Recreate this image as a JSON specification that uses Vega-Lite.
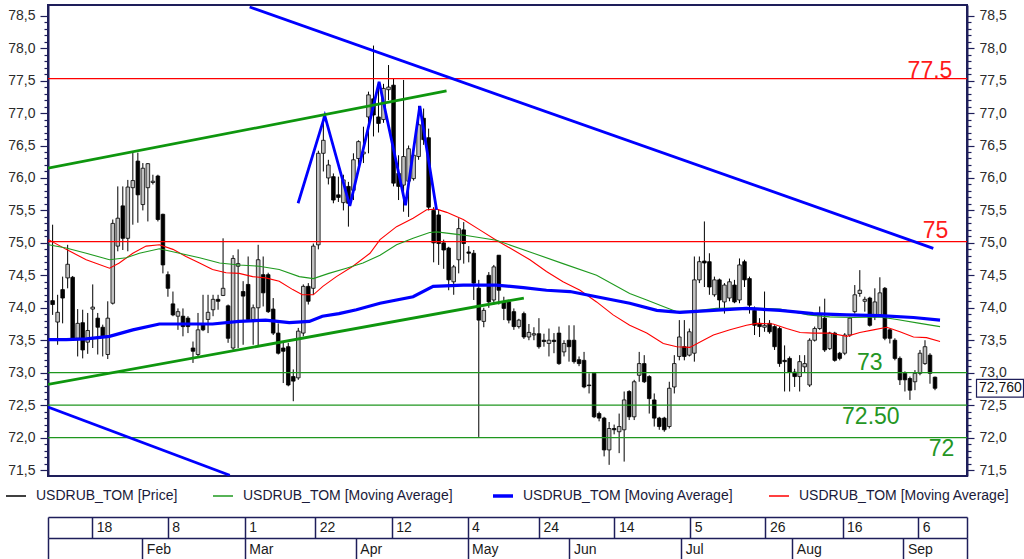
{
  "$schema": "https://vega.github.io/schema/vega-lite/v6.json",
  "width": 919,
  "height": 471,
  "autosize": {"type": "none"},
  "padding": {"left": 48, "top": 5, "right": 57, "bottom": 83},
  "background": "white",
  "config": {
    "font": "Liberation Sans",
    "view": {"stroke": "#1e1e5a", "strokeWidth": 2},
    "axis": {"grid": false, "title": null, "labelFont": "Liberation Sans"},
    "legend": {"labelFont": "Liberation Sans"}
  },
  "datasets": {
    "candles": [
      {"i":-8,"o":74.11,"h":75.28,"l":73.89,"c":74.05},{"i":-7,"o":73.78,"h":74.2,"l":73.43,"c":73.93},{"i":-6,"o":74.28,"h":74.48,"l":73.76,"c":74.15},{"i":-5,"o":74.46,"h":74.97,"l":74.3,"c":74.67},{"i":-4,"o":74.47,"h":74.49,"l":73.51,"c":73.53},{"i":-3,"o":73.53,"h":73.98,"l":73.25,"c":73.76},{"i":-2,"o":73.77,"h":73.97,"l":73.22,"c":73.35},{"i":-1,"o":73.47,"h":73.92,"l":73.29,"c":73.65},
      {"i":0,"o":73.98,"h":74.36,"l":73.38,"c":74.01},{"i":1,"o":73.84,"h":73.92,"l":73.28,"c":73.7},{"i":2,"o":73.7,"h":73.74,"l":73.25,"c":73.56},{"i":3,"o":73.28,"h":74.1,"l":73.21,"c":73.84},{"i":4,"o":74.07,"h":75.36,"l":74.05,"c":75.3},{"i":5,"o":74.95,"h":75.87,"l":74.87,"c":75.38},{"i":6,"o":75.57,"h":75.87,"l":74.89,"c":75.07},{"i":7,"o":75.07,"h":75.97,"l":74.87,"c":75.86},{"i":8,"o":75.85,"h":76.39,"l":75.28,"c":75.96},{"i":9,"o":76.26,"h":76.39,"l":75.31,"c":75.74},
      {"i":10,"o":75.59,"h":76.23,"l":75.5,"c":76.15},{"i":11,"o":75.85,"h":76.23,"l":75.33,"c":76.22},{"i":12,"o":75.93,"h":76.05,"l":75.9,"c":75.95},{"i":13,"o":76.03,"h":76.05,"l":75.33,"c":75.36},{"i":14,"o":75.44,"h":75.45,"l":74.53,"c":74.66},{"i":15,"o":74.51,"h":74.56,"l":74.17,"c":74.3},{"i":16,"o":74.06,"h":74.25,"l":73.87,"c":73.89},{"i":17,"o":73.87,"h":73.99,"l":73.66,"c":73.94},{"i":18,"o":73.87,"h":73.99,"l":73.56,"c":73.71},{"i":19,"o":73.84,"h":73.87,"l":73.61,"c":73.71},
      {"i":20,"o":73.38,"h":73.48,"l":73.15,"c":73.33},{"i":21,"o":73.28,"h":73.92,"l":73.25,"c":73.66},{"i":22,"o":73.74,"h":74.2,"l":73.64,"c":73.66},{"i":23,"o":73.82,"h":74.2,"l":73.61,"c":73.93},{"i":24,"o":73.97,"h":74.2,"l":73.87,"c":74.13},{"i":25,"o":74.13,"h":74.2,"l":73.97,"c":74.1},{"i":26,"o":74.19,"h":75.07,"l":74.18,"c":74.3},{"i":27,"o":74.03,"h":74.05,"l":73.46,"c":73.53},{"i":28,"o":73.38,"h":74.81,"l":73.35,"c":74.76},{"i":29,"o":74.64,"h":74.9,"l":73.38,"c":74.68},
      {"i":30,"o":74.25,"h":74.41,"l":73.43,"c":74.18},{"i":31,"o":74.36,"h":74.79,"l":73.79,"c":73.82},{"i":32,"o":73.82,"h":74.05,"l":73.43,"c":74.0},{"i":33,"o":74.0,"h":74.97,"l":73.41,"c":74.74},{"i":34,"o":74.51,"h":74.79,"l":74.02,"c":74.23},{"i":35,"o":74.51,"h":74.54,"l":73.92,"c":73.94},{"i":36,"o":73.98,"h":74.15,"l":73.58,"c":73.61},{"i":37,"o":73.61,"h":73.76,"l":73.28,"c":73.3},{"i":38,"o":73.38,"h":73.48,"l":72.84,"c":73.33},{"i":39,"o":73.4,"h":73.46,"l":72.79,"c":72.81},
      {"i":40,"o":72.94,"h":73.05,"l":72.56,"c":72.87},{"i":41,"o":72.92,"h":73.69,"l":72.89,"c":73.64},{"i":42,"o":73.61,"h":74.36,"l":73.56,"c":74.33},{"i":43,"o":74.33,"h":74.38,"l":74.05,"c":74.1},{"i":44,"o":74.3,"h":74.99,"l":74.2,"c":74.95},{"i":45,"o":74.97,"h":76.42,"l":74.9,"c":76.38},{"i":46,"o":76.38,"h":76.95,"l":76.1,"c":76.58},{"i":47,"o":76.0,"h":76.28,"l":75.9,"c":76.2},{"i":48,"o":76.02,"h":76.07,"l":75.61,"c":75.66},{"i":49,"o":75.74,"h":76.02,"l":75.63,"c":75.7},
      {"i":50,"o":75.62,"h":76.05,"l":75.5,"c":75.97},{"i":51,"o":75.87,"h":75.94,"l":75.25,"c":75.61},{"i":52,"o":75.81,"h":76.38,"l":75.66,"c":76.28},{"i":53,"o":76.3,"h":76.58,"l":76.2,"c":76.56},{"i":54,"o":76.37,"h":76.79,"l":76.23,"c":76.4},{"i":55,"o":76.94,"h":77.33,"l":76.38,"c":77.28},{"i":56,"o":77.22,"h":78.04,"l":76.64,"c":76.97},{"i":57,"o":76.94,"h":77.48,"l":76.7,"c":76.84},{"i":58,"o":76.9,"h":77.45,"l":76.85,"c":77.38},{"i":59,"o":77.36,"h":77.74,"l":77.2,"c":77.4},
      {"i":60,"o":77.43,"h":77.54,"l":75.87,"c":75.92},{"i":61,"o":76.07,"h":76.35,"l":75.66,"c":75.87},{"i":62,"o":75.89,"h":77.51,"l":75.48,"c":76.33},{"i":63,"o":75.95,"h":76.5,"l":75.4,"c":76.45},{"i":64,"o":75.99,"h":76.38,"l":75.96,"c":76.35},{"i":65,"o":76.33,"h":77.11,"l":76.28,"c":76.82},{"i":66,"o":76.92,"h":77.07,"l":76.51,"c":76.59},{"i":67,"o":76.62,"h":76.76,"l":75.5,"c":75.55},{"i":68,"o":75.5,"h":75.55,"l":74.7,"c":75.0},{"i":69,"o":75.43,"h":75.51,"l":74.66,"c":74.99},
      {"i":70,"o":75.0,"h":75.05,"l":74.6,"c":74.89},{"i":71,"o":74.92,"h":74.94,"l":74.27,"c":74.43},{"i":72,"o":74.4,"h":74.66,"l":74.2,"c":74.63},{"i":73,"o":74.74,"h":75.38,"l":74.53,"c":75.22},{"i":74,"o":75.2,"h":75.32,"l":74.68,"c":74.99},{"i":75,"o":74.86,"h":74.95,"l":74.7,"c":74.84},{"i":76,"o":74.84,"h":74.89,"l":74.12,"c":74.38},{"i":77,"o":74.3,"h":74.43,"l":72.01,"c":73.81},{"i":78,"o":73.79,"h":74.0,"l":73.7,"c":73.96},{"i":79,"o":74.5,"h":74.55,"l":74.0,"c":74.09},
      {"i":80,"o":74.12,"h":74.66,"l":74.05,"c":74.63},{"i":81,"o":74.81,"h":74.81,"l":74.05,"c":74.27},{"i":82,"o":74.09,"h":74.17,"l":73.81,"c":73.99},{"i":83,"o":74.09,"h":74.12,"l":73.76,"c":73.81},{"i":84,"o":73.94,"h":73.99,"l":73.66,"c":73.71},{"i":85,"o":73.71,"h":73.83,"l":73.68,"c":73.81},{"i":86,"o":73.91,"h":73.94,"l":73.52,"c":73.55},{"i":87,"o":73.55,"h":73.75,"l":73.5,"c":73.62},{"i":88,"o":73.58,"h":73.7,"l":73.5,"c":73.6},{"i":89,"o":73.6,"h":73.84,"l":73.37,"c":73.4},
      {"i":90,"o":73.5,"h":73.6,"l":73.4,"c":73.48},{"i":91,"o":73.45,"h":73.68,"l":73.25,"c":73.5},{"i":92,"o":73.5,"h":73.61,"l":73.3,"c":73.48},{"i":93,"o":73.61,"h":73.71,"l":73.12,"c":73.14},{"i":94,"o":73.32,"h":73.5,"l":73.25,"c":73.45},{"i":95,"o":73.5,"h":73.73,"l":73.17,"c":73.4},{"i":96,"o":73.5,"h":73.73,"l":73.14,"c":73.17},{"i":97,"o":73.2,"h":73.25,"l":73.1,"c":73.14},{"i":98,"o":73.19,"h":73.32,"l":72.76,"c":72.78},{"i":99,"o":72.81,"h":72.99,"l":72.68,"c":72.8},
      {"i":100,"o":72.99,"h":72.99,"l":72.3,"c":72.32},{"i":101,"o":72.37,"h":72.4,"l":72.25,"c":72.3},{"i":102,"o":72.3,"h":72.32,"l":71.71,"c":71.81},{"i":103,"o":71.81,"h":72.24,"l":71.58,"c":72.14},{"i":104,"o":72.14,"h":72.2,"l":72.05,"c":72.12},{"i":105,"o":72.09,"h":72.37,"l":71.76,"c":72.17},{"i":106,"o":72.12,"h":72.71,"l":71.63,"c":72.58},{"i":107,"o":72.71,"h":72.73,"l":72.27,"c":72.32},{"i":108,"o":72.32,"h":72.89,"l":72.27,"c":72.86},{"i":109,"o":72.96,"h":73.32,"l":72.86,"c":73.14},
      {"i":110,"o":73.14,"h":73.27,"l":72.84,"c":72.86},{"i":111,"o":72.94,"h":72.96,"l":72.37,"c":72.6},{"i":112,"o":72.58,"h":72.68,"l":72.17,"c":72.3},{"i":113,"o":72.3,"h":72.32,"l":72.12,"c":72.17},{"i":114,"o":72.3,"h":72.32,"l":72.09,"c":72.12},{"i":115,"o":72.17,"h":72.86,"l":72.14,"c":72.76},{"i":116,"o":72.78,"h":73.27,"l":72.68,"c":73.14},{"i":117,"o":73.25,"h":73.81,"l":73.19,"c":73.55},{"i":118,"o":73.4,"h":73.81,"l":73.19,"c":73.25},{"i":119,"o":73.27,"h":73.68,"l":73.25,"c":73.63},
      {"i":120,"o":73.3,"h":74.79,"l":73.17,"c":74.43},{"i":121,"o":74.43,"h":74.79,"l":74.38,"c":74.71},{"i":122,"o":74.72,"h":75.33,"l":74.32,"c":74.69},{"i":123,"o":74.71,"h":74.84,"l":74.2,"c":74.32},{"i":124,"o":74.2,"h":74.48,"l":74.17,"c":74.43},{"i":125,"o":74.43,"h":74.45,"l":73.96,"c":74.12},{"i":126,"o":74.09,"h":74.38,"l":73.91,"c":74.35},{"i":127,"o":74.15,"h":74.45,"l":74.1,"c":74.4},{"i":128,"o":74.35,"h":74.43,"l":74.07,"c":74.09},{"i":129,"o":74.12,"h":74.76,"l":74.07,"c":74.66},
      {"i":130,"o":74.71,"h":74.74,"l":74.32,"c":74.43},{"i":131,"o":74.45,"h":74.48,"l":73.91,"c":74.04},{"i":132,"o":73.96,"h":74.02,"l":73.58,"c":73.73},{"i":133,"o":73.76,"h":73.84,"l":73.55,"c":73.71},{"i":134,"o":73.7,"h":74.25,"l":73.63,"c":73.73},{"i":135,"o":73.76,"h":73.81,"l":73.6,"c":73.63},{"i":136,"o":73.71,"h":73.73,"l":73.35,"c":73.4},{"i":137,"o":73.68,"h":73.71,"l":73.09,"c":73.14},{"i":138,"o":73.19,"h":73.42,"l":72.71,"c":73.17},{"i":139,"o":73.22,"h":73.25,"l":72.71,"c":73.01},
      {"i":140,"o":73.01,"h":73.06,"l":72.78,"c":72.94},{"i":141,"o":72.94,"h":73.27,"l":72.71,"c":73.17},{"i":142,"o":73.09,"h":73.27,"l":73.01,"c":73.14},{"i":143,"o":72.81,"h":73.53,"l":72.78,"c":73.5},{"i":144,"o":73.5,"h":73.71,"l":73.48,"c":73.68},{"i":145,"o":73.68,"h":74.02,"l":73.66,"c":73.89},{"i":146,"o":73.84,"h":74.14,"l":73.32,"c":73.35},{"i":147,"o":73.37,"h":73.63,"l":73.35,"c":73.61},{"i":148,"o":73.61,"h":73.63,"l":73.17,"c":73.19},{"i":149,"o":73.3,"h":73.32,"l":73.19,"c":73.22},
      {"i":150,"o":73.3,"h":73.61,"l":73.27,"c":73.58},{"i":151,"o":73.58,"h":73.86,"l":73.55,"c":73.84},{"i":152,"o":73.94,"h":74.35,"l":73.91,"c":74.2},{"i":153,"o":74.22,"h":74.58,"l":74.17,"c":74.27},{"i":154,"o":74.1,"h":74.17,"l":73.94,"c":74.13},{"i":155,"o":74.15,"h":74.17,"l":73.71,"c":73.73},{"i":156,"o":73.86,"h":74.3,"l":73.81,"c":74.09},{"i":157,"o":73.89,"h":74.47,"l":73.86,"c":74.23},{"i":158,"o":74.3,"h":74.32,"l":73.5,"c":73.53},{"i":159,"o":73.66,"h":73.68,"l":73.45,"c":73.53},
      {"i":160,"o":73.5,"h":73.53,"l":73.19,"c":73.22},{"i":161,"o":73.22,"h":73.25,"l":72.81,"c":72.89},{"i":162,"o":72.99,"h":73.02,"l":72.71,"c":72.89},{"i":163,"o":72.91,"h":72.94,"l":72.58,"c":72.73},{"i":164,"o":72.86,"h":73.04,"l":72.73,"c":72.99},{"i":165,"o":72.99,"h":73.35,"l":72.96,"c":73.3},{"i":166,"o":73.14,"h":73.5,"l":73.12,"c":73.4},{"i":167,"o":73.27,"h":73.3,"l":72.83,"c":72.99},{"i":168,"o":72.93,"h":72.94,"l":72.73,"c":72.76}
    ],
    "ma": [
      {"s":"MAr","i":-8.8,"v":75.05},{"s":"MAr","i":-5.3,"v":74.9},{"s":"MAr","i":-1.3,"v":74.74},{"s":"MAr","i":3.35,"v":74.61},{"s":"MAr","i":5.3,"v":74.69},{"s":"MAr","i":8.0,"v":74.84},{"s":"MAr","i":10.65,"v":74.95},{"s":"MAr","i":13.3,"v":74.97},{"s":"MAr","i":16.0,"v":74.9},{"s":"MAr","i":18.6,"v":74.79},{"s":"MAr","i":21.3,"v":74.69},{"s":"MAr","i":23.9,"v":74.59},{"s":"MAr","i":26.6,"v":74.54},{"s":"MAr","i":29.2,"v":74.53},{"s":"MAr","i":31.9,"v":74.48},{"s":"MAr","i":34.5,"v":74.46},{"s":"MAr","i":37.2,"v":74.41},{"s":"MAr","i":39.9,"v":74.28},{"s":"MAr","i":41.8,"v":74.2},{"s":"MAr","i":44.0,"v":74.2},{"s":"MAr","i":45.9,"v":74.33},{"s":"MAr","i":48.6,"v":74.48},{"s":"MAr","i":51.9,"v":74.64},{"s":"MAr","i":55.3,"v":74.84},{"s":"MAr","i":57.3,"v":75.05},{"s":"MAr","i":60.6,"v":75.25},{"s":"MAr","i":63.9,"v":75.38},{"s":"MAr","i":66.6,"v":75.51},{"s":"MAr","i":68.6,"v":75.52},{"s":"MAr","i":70.6,"v":75.47},{"s":"MAr","i":73.9,"v":75.36},{"s":"MAr","i":77.2,"v":75.2},{"s":"MAr","i":80.5,"v":75.04},{"s":"MAr","i":83.9,"v":74.89},{"s":"MAr","i":87.2,"v":74.74},{"s":"MAr","i":90.5,"v":74.56},{"s":"MAr","i":93.8,"v":74.4},{"s":"MAr","i":97.2,"v":74.27},{"s":"MAr","i":100.5,"v":74.09},{"s":"MAr","i":103.8,"v":73.89},{"s":"MAr","i":107.1,"v":73.73},{"s":"MAr","i":110.5,"v":73.61},{"s":"MAr","i":113.8,"v":73.45},{"s":"MAr","i":116.5,"v":73.4},{"s":"MAr","i":119.1,"v":73.39},{"s":"MAr","i":121.8,"v":73.5},{"s":"MAr","i":123.8,"v":73.58},{"s":"MAr","i":127.1,"v":73.66},{"s":"MAr","i":130.4,"v":73.73},{"s":"MAr","i":132.4,"v":73.76},{"s":"MAr","i":135.7,"v":73.75},{"s":"MAr","i":138.4,"v":73.68},{"s":"MAr","i":141.1,"v":73.62},{"s":"MAr","i":143.7,"v":73.61},{"s":"MAr","i":147.0,"v":73.61},{"s":"MAr","i":150.4,"v":73.56},{"s":"MAr","i":153.0,"v":73.62},{"s":"MAr","i":155.7,"v":73.66},{"s":"MAr","i":158.4,"v":73.7},{"s":"MAr","i":161.0,"v":73.63},{"s":"MAr","i":163.7,"v":73.55},{"s":"MAr","i":166.3,"v":73.54},{"s":"MAr","i":169.0,"v":73.48},
      {"s":"MAg","i":-8.8,"v":74.97},{"s":"MAg","i":-5.3,"v":74.92},{"s":"MAg","i":-1.3,"v":74.84},{"s":"MAg","i":3.35,"v":74.74},{"s":"MAg","i":6.7,"v":74.77},{"s":"MAg","i":9.3,"v":74.84},{"s":"MAg","i":13.3,"v":74.91},{"s":"MAg","i":17.3,"v":74.84},{"s":"MAg","i":21.3,"v":74.77},{"s":"MAg","i":25.3,"v":74.69},{"s":"MAg","i":29.2,"v":74.66},{"s":"MAg","i":33.2,"v":74.64},{"s":"MAg","i":37.2,"v":74.59},{"s":"MAg","i":41.2,"v":74.48},{"s":"MAg","i":44.0,"v":74.45},{"s":"MAg","i":47.1,"v":74.53},{"s":"MAg","i":50.6,"v":74.61},{"s":"MAg","i":53.9,"v":74.69},{"s":"MAg","i":57.3,"v":74.81},{"s":"MAg","i":60.6,"v":74.97},{"s":"MAg","i":63.9,"v":75.07},{"s":"MAg","i":67.2,"v":75.16},{"s":"MAg","i":68.6,"v":75.17},{"s":"MAg","i":73.9,"v":75.12},{"s":"MAg","i":80.5,"v":75.04},{"s":"MAg","i":87.2,"v":74.86},{"s":"MAg","i":93.8,"v":74.68},{"s":"MAg","i":100.5,"v":74.5},{"s":"MAg","i":107.1,"v":74.22},{"s":"MAg","i":110.5,"v":74.12},{"s":"MAg","i":113.8,"v":74.02},{"s":"MAg","i":116.5,"v":73.94},{"s":"MAg","i":119.8,"v":73.95},{"s":"MAg","i":124.4,"v":73.99},{"s":"MAg","i":130.4,"v":74.0},{"s":"MAg","i":137.1,"v":73.98},{"s":"MAg","i":142.7,"v":73.89},{"s":"MAg","i":147.0,"v":73.86},{"s":"MAg","i":151.7,"v":73.85},{"s":"MAg","i":157.0,"v":73.86},{"s":"MAg","i":160.4,"v":73.82},{"s":"MAg","i":165.0,"v":73.76},{"s":"MAg","i":169.0,"v":73.71},
      {"s":"MAb","i":-8.8,"v":73.51},{"s":"MAb","i":-5.3,"v":73.51},{"s":"MAb","i":-1.3,"v":73.52},{"s":"MAb","i":3.35,"v":73.56},{"s":"MAb","i":8.0,"v":73.66},{"s":"MAb","i":13.3,"v":73.75},{"s":"MAb","i":18.6,"v":73.75},{"s":"MAb","i":23.9,"v":73.75},{"s":"MAb","i":29.2,"v":73.79},{"s":"MAb","i":34.5,"v":73.81},{"s":"MAb","i":39.2,"v":73.77},{"s":"MAb","i":43.2,"v":73.79},{"s":"MAb","i":45.8,"v":73.87},{"s":"MAb","i":49.1,"v":73.91},{"s":"MAb","i":52.6,"v":73.97},{"s":"MAb","i":57.3,"v":74.07},{"s":"MAb","i":63.9,"v":74.17},{"s":"MAb","i":67.9,"v":74.33},{"s":"MAb","i":73.9,"v":74.35},{"s":"MAb","i":80.5,"v":74.35},{"s":"MAb","i":85.9,"v":74.31},{"s":"MAb","i":90.5,"v":74.27},{"s":"MAb","i":95.2,"v":74.25},{"s":"MAb","i":100.5,"v":74.17},{"s":"MAb","i":107.1,"v":74.07},{"s":"MAb","i":112.5,"v":73.96},{"s":"MAb","i":117.1,"v":73.93},{"s":"MAb","i":123.8,"v":73.96},{"s":"MAb","i":130.4,"v":73.99},{"s":"MAb","i":137.1,"v":73.96},{"s":"MAb","i":143.7,"v":73.91},{"s":"MAb","i":150.4,"v":73.89},{"s":"MAb","i":157.0,"v":73.88},{"s":"MAb","i":163.7,"v":73.85},{"s":"MAb","i":169.0,"v":73.81}
    ],
    "trends": [
      {"g":"W","col":"blue","i":40.96,"v":75.61},{"g":"W","col":"blue","i":46.29,"v":76.96},{"g":"W","col":"blue","i":51.28,"v":75.57},{"g":"W","col":"blue","i":57.12,"v":77.48},{"g":"W","col":"blue","i":62.39,"v":75.58},{"g":"W","col":"blue","i":65.24,"v":77.11},{"g":"W","col":"blue","i":68.58,"v":75.51},
      {"g":"blueTop","col":"blue","i":31.3,"v":78.634},{"g":"blueTop","col":"blue","i":167.66,"v":74.916},
      {"g":"blueLow","col":"blue","i":-8.92,"v":72.47},{"g":"blueLow","col":"blue","i":27.33,"v":71.42},
      {"g":"greenTop","col":"green","i":-8.92,"v":76.15},{"g":"greenTop","col":"green","i":70.57,"v":77.34},
      {"g":"greenLow","col":"green","i":-8.92,"v":72.82},{"g":"greenLow","col":"green","i":85.99,"v":74.15}
    ],
    "levels": [
      {"v":77.53,"col":"red"},{"v":75.02,"col":"red"},{"v":73.0,"col":"green"},{"v":72.5,"col":"green"},{"v":72.0,"col":"green"}
    ],
    "notes": [
      {"t":"77.5","col":"red","i":167.0,"v":77.65},{"t":"75","col":"red","i":168.1,"v":75.18},{"t":"73","col":"green","i":155.0,"v":73.15},{"t":"72.50","col":"green","i":155.2,"v":72.32},{"t":"72","col":"green","i":169.3,"v":71.82}
    ],
    "last": [{"i":168,"v":72.76,"t":"72,760"}]
  },
  "layer": [
    {
      "data": {"name": "candles"},
      "mark": {"type": "rule", "color": "#000000", "strokeWidth": 1, "clip": true},
      "encoding": {
        "x": {"field": "i", "type": "quantitative",
          "scale": {"domain": [-8.92, 174.38], "nice": false, "zero": false, "padding": 0},
          "axis": {"orient": "bottom", "offset": 41,
            "values": [-8.92, -0.1, 14.96, 30.33, 44.39, 59.66, 74.76, 88.99, 104.07, 119.19, 134.18, 149.56, 164.68, 174.38],
            "labelExpr": "['','18','8','1','22','12','4','24','14','5','26','16','6',''][indexof([-8.92, -0.1, 14.96, 30.33, 44.39, 59.66, 74.76, 88.99, 104.07, 119.19, 134.18, 149.56, 164.68, 174.38], datum.value)]",
            "tickSize": 21, "tickColor": "#1e1e5a", "tickWidth": 1.5, "domainColor": "#1e1e5a", "domainWidth": 1.5,
            "labelAlign": "left", "labelBaseline": "middle", "labelPadding": -11, "labelOffset": 4,
            "labelFontSize": 14, "labelColor": "#1a1a1a", "labelOverlap": false, "labelBound": false, "labelFlush": false,
            "grid": false, "title": null}},
        "y": {"field": "l", "type": "quantitative",
          "scale": {"domain": [71.408, 78.665], "nice": false, "zero": false, "padding": 0},
          "axis": {"orient": "left",
            "values": [70.853,70.894,71.5,71.6,71.7,71.8,71.9,72.0,72.1,72.2,72.3,72.4,72.5,72.6,72.7,72.8,72.9,73.0,73.1,73.2,73.3,73.4,73.5,73.6,73.7,73.8,73.9,74.0,74.1,74.2,74.3,74.4,74.5,74.6,74.7,74.8,74.9,75.0,75.1,75.2,75.3,75.4,75.5,75.6,75.7,75.8,75.9,76.0,76.1,76.2,76.3,76.4,76.5,76.6,76.7,76.8,76.9,77.0,77.1,77.2,77.3,77.4,77.5,77.6,77.7,77.8,77.9,78.0,78.1,78.2,78.3,78.4,78.5],
            "labelExpr": "datum.value > 71.45 && abs(datum.value*2 - round(datum.value*2)) < 0.01 ? replace(format(datum.value, '.1f'), '.', ',') : ''",
            "tickSize": {"condition": {"test": "abs(datum.value*2 - round(datum.value*2)) < 0.01", "value": 8}, "value": 4},
            "tickColor": {"condition": {"test": "datum.value < 71.45", "value": "transparent"}, "value": "#1e1e5a"},
            "grid": true,
            "gridColor": {"condition": {"test": "datum.value < 71.45", "value": "#a6a6a6"}, "value": "transparent"},
            "gridOpacity": {"condition": {"test": "datum.value < 70.87", "value": 0.45}, "value": 1},
            "gridWidth": 1.4,
            "tickWidth": 1.2, "domainColor": "#1e1e5a", "domainWidth": 2,
            "labelFontSize": 14, "labelColor": "#2b2b2b", "labelPadding": 5,
            "labelOverlap": false, "labelBound": false, "labelFlush": false, "title": null}},
        "y2": {"field": "h"}
      }
    },
    {
      "data": {"name": "candles"},
      "mark": {"type": "bar", "width": 3.6, "stroke": "#000000", "strokeWidth": 0.8, "clip": true},
      "encoding": {
        "x": {"field": "i", "type": "quantitative",
          "axis": {"orient": "bottom", "offset": 62,
            "values": [-8.92, 9.9, 30.33, 52.47, 74.76, 95.09, 117.4, 139.55, 161.69, 174.38],
            "labelExpr": "['','Feb','Mar','Apr','May','Jun','Jul','Aug','Sep',''][indexof([-8.92, 9.9, 30.33, 52.47, 74.76, 95.09, 117.4, 139.55, 161.69, 174.38], datum.value)]",
            "tickSize": 22, "tickColor": "#1e1e5a", "tickWidth": 1.5, "domainColor": "#1e1e5a", "domainWidth": 1.5,
            "labelAlign": "left", "labelBaseline": "middle", "labelPadding": -11, "labelOffset": 4,
            "labelFontSize": 14, "labelColor": "#1a1a1a", "labelOverlap": false, "labelBound": false, "labelFlush": false,
            "grid": false, "title": null}},
        "y": {"field": "o", "type": "quantitative",
          "axis": {"orient": "right",
            "values": [71.5,71.6,71.7,71.8,71.9,72.0,72.1,72.2,72.3,72.4,72.5,72.6,72.7,72.8,72.9,73.0,73.1,73.2,73.3,73.4,73.5,73.6,73.7,73.8,73.9,74.0,74.1,74.2,74.3,74.4,74.5,74.6,74.7,74.8,74.9,75.0,75.1,75.2,75.3,75.4,75.5,75.6,75.7,75.8,75.9,76.0,76.1,76.2,76.3,76.4,76.5,76.6,76.7,76.8,76.9,77.0,77.1,77.2,77.3,77.4,77.5,77.6,77.7,77.8,77.9,78.0,78.1,78.2,78.3,78.4,78.5],
            "labelExpr": "abs(datum.value*2 - round(datum.value*2)) < 0.01 ? replace(format(datum.value, '.1f'), '.', ',') : ''",
            "tickSize": {"condition": {"test": "abs(datum.value*2 - round(datum.value*2)) < 0.01", "value": 7}, "value": 4},
            "tickColor": "#1e1e5a", "tickWidth": 1.2, "domainColor": "#1e1e5a", "domainWidth": 2,
            "labelFontSize": 14, "labelColor": "#2b2b2b", "labelPadding": 5,
            "labelOverlap": false, "labelBound": false, "labelFlush": false, "grid": false, "title": null}},
        "y2": {"field": "c"},
        "fill": {"condition": {"test": "datum.c >= datum.o", "value": "#c2c2c2"}, "value": "#000000"}
      }
    },
    {
      "data": {"name": "levels"},
      "transform": [{"filter": "datum.col == 'red'"}],
      "mark": {"type": "rule", "color": "#ff0000", "strokeWidth": 1.2},
      "encoding": {"y": {"field": "v", "type": "quantitative", "axis": null}}
    },
    {
      "data": {"name": "levels"},
      "transform": [{"filter": "datum.col == 'green'"}],
      "mark": {"type": "rule", "color": "#1f961f", "strokeWidth": 1.2},
      "encoding": {"y": {"field": "v", "type": "quantitative", "axis": null}}
    },
    {
      "data": {"name": "ma"},
      "mark": {"type": "line", "clip": true},
      "encoding": {
        "x": {"field": "i", "type": "quantitative", "axis": null},
        "y": {"field": "v", "type": "quantitative", "axis": null},
        "color": {"field": "s", "type": "nominal",
          "scale": {"domain": ["Price", "MAg", "MAb", "MAr"], "range": ["#000000", "#1f9a1f", "#0000ff", "#ff0000"]},
          "legend": {"orient": "none", "legendX": -39, "legendY": 484, "direction": "horizontal", "title": null,
            "symbolType": "stroke", "symbolSize": 400, "labelFontSize": 14, "labelColor": "#1a1a3a", "labelOffset": 13,
            "columnPadding": 32, "labelLimit": 400,
            "symbolStrokeWidth": {"expr": "datum.value == 'MAb' ? 3.5 : 1.5"},
            "labelExpr": "datum.label == 'Price' ? 'USDRUB_TOM [Price]' : 'USDRUB_TOM [Moving Average]'"}},
        "strokeWidth": {"condition": {"test": "datum.s == 'MAb'", "value": 3.2}, "value": 1.1},
        "detail": {"field": "s"}
      }
    },
    {
      "data": {"name": "trends"},
      "transform": [{"filter": "datum.col == 'blue'"}],
      "mark": {"type": "line", "color": "#0000ff", "strokeWidth": 2.8, "clip": true},
      "encoding": {
        "x": {"field": "i", "type": "quantitative", "axis": null},
        "y": {"field": "v", "type": "quantitative", "axis": null},
        "detail": {"field": "g"}
      }
    },
    {
      "data": {"name": "trends"},
      "transform": [{"filter": "datum.col == 'green'"}],
      "mark": {"type": "line", "color": "#0e960e", "strokeWidth": 2.8, "clip": true},
      "encoding": {
        "x": {"field": "i", "type": "quantitative", "axis": null},
        "y": {"field": "v", "type": "quantitative", "axis": null},
        "detail": {"field": "g"}
      }
    },
    {
      "data": {"name": "notes"},
      "transform": [{"filter": "datum.col == 'red'"}],
      "mark": {"type": "text", "fontSize": 23, "color": "#ff1a1a", "align": "center", "baseline": "middle"},
      "encoding": {
        "x": {"field": "i", "type": "quantitative", "axis": null},
        "y": {"field": "v", "type": "quantitative", "axis": null},
        "text": {"field": "t"}
      }
    },
    {
      "data": {"name": "notes"},
      "transform": [{"filter": "datum.col == 'green'"}],
      "mark": {"type": "text", "fontSize": 23, "color": "#249624", "align": "center", "baseline": "middle"},
      "encoding": {
        "x": {"field": "i", "type": "quantitative", "axis": null},
        "y": {"field": "v", "type": "quantitative", "axis": null},
        "text": {"field": "t"}
      }
    },
    {
      "data": {"name": "last"},
      "mark": {"type": "point", "shape": "M-1,-0.38L1,-0.38L1,0.38L-1,0.38Z", "size": 2209, "filled": true, "fill": "#ffffff", "stroke": "#1e1e5a", "strokeWidth": 1.2, "opacity": 1, "clip": false, "xOffset": 65},
      "encoding": {
        "x": {"field": "i", "type": "quantitative", "axis": null},
        "y": {"field": "v", "type": "quantitative", "axis": null}
      }
    },
    {
      "data": {"name": "last"},
      "mark": {"type": "text", "fontSize": 14, "color": "#111111", "align": "left", "baseline": "middle", "dx": 44, "clip": false},
      "encoding": {
        "x": {"field": "i", "type": "quantitative", "axis": null},
        "y": {"field": "v", "type": "quantitative", "axis": null},
        "text": {"field": "t"}
      }
    }
  ],
  "resolve": {"axis": {"x": "independent", "y": "independent"}}
}
